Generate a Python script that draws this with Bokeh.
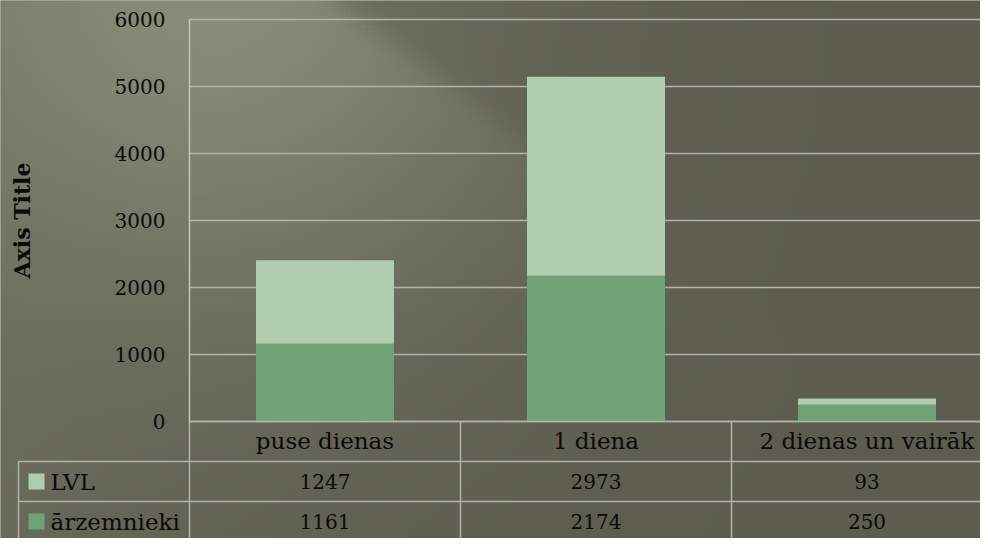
import numpy as np
from bokeh.plotting import figure
from bokeh.models import Range1d, FixedTicker, ColumnDataSource
from bokeh.embed import file_html
from bokeh.resources import INLINE
from bokeh.core.properties import value

# ---- data ----
categories = ["puse dienas", "1 diena", "2 dienas un vairāk"]
series_names = ["LVL", "ārzemnieki"]
lvl = [1247, 2973, 93]
arz = [1161, 2174, 250]
y_ticks = [0, 1000, 2000, 3000, 4000, 5000, 6000]

# ---- style ----
BG = "#5e5f51"
GRID = "#b3b3ab"
AXIS = "#c4c4bc"
C_LVL = "#b0cdb0"
C_ARZ = "#70a277"
FONT = "DejaVu Serif"
TXT = "#0a0a0a"

W, H = 980, 538
COL = 271            # px per category column
PX_PER_1000 = 67.0   # px per 1000 units on y
FRAME_LEFT = 189     # x of the value axis (px)
ZERO_Y = 421         # y of value 0 (px from top)
ROW = 40             # table row height (px)


def ux(px):
    return (px - FRAME_LEFT) / COL


def uy(py):
    return (ZERO_Y - py) / PX_PER_1000 * 1000


x0, x1 = ux(0), ux(W)
y0, y1 = uy(H), uy(0)
ROW_D = ROW / PX_PER_1000 * 1000

p = figure(width=W, height=H, x_range=Range1d(x0, x1), y_range=Range1d(y0, y1),
           output_backend="svg", toolbar_location=None,
           min_border_left=0, min_border_right=0, min_border_top=0, min_border_bottom=0)
p.background_fill_color = BG
p.border_fill_color = BG
p.outline_line_color = None
p.grid.visible = False

# soft background light (decoration)
gw, gh = 196, 108
uu, vv = np.meshgrid(np.linspace(0, W, gw), np.linspace(0, H, gh))
d = np.sqrt((uu - 240) ** 2 + (vv + 25) ** 2)
glow = 0.85 * np.exp(-d ** 2 / (2 * 230.0 ** 2))
edge = 1 / (1 + np.exp(-(340 + 1.3 * vv - uu) / 12.0))
L = glow * (0.35 + 0.65 * edge) + 0.22 * np.exp(-uu / 260.0)
L = np.clip(L, 0, 1)
base = np.array([92, 93, 79], dtype=float)
light = np.array([140, 143, 124], dtype=float)
rgb = base[None, None, :] + L[..., None] * (light - base)[None, None, :]
img = np.zeros((gh, gw), dtype=np.uint32)
view = img.view(dtype=np.uint8).reshape((gh, gw, 4))
view[..., 0] = rgb[..., 0].astype(np.uint8)
view[..., 1] = rgb[..., 1].astype(np.uint8)
view[..., 2] = rgb[..., 2].astype(np.uint8)
view[..., 3] = 255
img = img[::-1]
p.image_rgba(image=[img], x=x0, y=y0, dw=x1 - x0, dh=y1 - y0, level="image")

# gridlines
p.segment(x0=[0] * len(y_ticks), x1=[len(categories)] * len(y_ticks),
          y0=y_ticks, y1=y_ticks, line_color=GRID, line_width=1.5, level="underlay")

# bars
xs = [i + 0.5 for i in range(len(categories))]
src = ColumnDataSource(dict(x=xs, arz=arz, lvl=lvl))
p.vbar_stack(["arz", "lvl"], x="x", width=138 / COL, source=src,
             fill_color=[C_ARZ, C_LVL], line_color=None)

# value axis
ya = p.yaxis[0]
ya.fixed_location = 0
ya.bounds = (y_ticks[0], y_ticks[-1])
ya.ticker = FixedTicker(ticks=y_ticks)
ya.major_tick_out = 0
ya.major_tick_in = 0
ya.minor_tick_out = 0
ya.minor_tick_in = 0
ya.axis_line_color = AXIS
ya.axis_line_width = 1.5
ya.major_label_standoff = 24
ya.major_label_text_font = FONT
ya.major_label_text_font_size = "20px"
ya.major_label_text_color = TXT
ya.axis_label = "Axis Title"
ya.axis_label_text_font = FONT
ya.axis_label_text_font_style = "bold"
ya.axis_label_text_font_size = "22px"
ya.axis_label_text_color = TXT
ya.axis_label_standoff = 77

# category axis = first table row
xa = p.xaxis[0]
xa.fixed_location = 0
xa.bounds = (0, len(categories))
xa.ticker = FixedTicker(ticks=xs)
xa.major_label_overrides = {x: c for x, c in zip(xs, categories)}
xa.major_tick_out = 0
xa.major_tick_in = 0
xa.minor_tick_out = 0
xa.minor_tick_in = 0
xa.axis_line_color = GRID
xa.axis_line_width = 1.5
xa.major_label_standoff = 6
xa.major_label_text_font = FONT
xa.major_label_text_font_size = "23px"
xa.major_label_text_color = TXT

# ---- data table lines ----
n_rows = len(series_names)
x_left = ux(18)
hy = [-ROW_D * (r + 1) for r in range(n_rows + 1)]
p.segment(x0=[x_left] * len(hy), x1=[len(categories)] * len(hy), y0=hy, y1=hy,
          line_color=GRID, line_width=1.5)
vx = list(range(len(categories) + 1))
p.segment(x0=vx, x1=vx, y0=[0] * len(vx), y1=[-ROW_D * (n_rows + 1)] * len(vx),
          line_color=GRID, line_width=1.5)
p.segment(x0=[x_left], x1=[x_left], y0=[-ROW_D], y1=[-ROW_D * (n_rows + 1)],
          line_color=GRID, line_width=1.5)

rows = [lvl, arz]
colors = [C_LVL, C_ARZ]
for r, (name, vals, col) in enumerate(zip(series_names, rows, colors)):
    yc = -ROW_D * (r + 1.5)
    p.text(x=xs, y=[yc] * len(xs), text=[str(v) for v in vals],
           text_align="center", text_baseline="middle",
           text_font=value(FONT), text_font_size="20px", text_color=TXT)
    p.scatter(x=[ux(36)], y=[yc], marker="square", size=16,
              fill_color=col, line_color=None)
    p.text(x=[ux(50)], y=[yc], text=[name],
           text_align="left", text_baseline="middle",
           text_font=value(FONT), text_font_size="23px", text_color=TXT)

open("out.html", "w").write(file_html(p, INLINE))
